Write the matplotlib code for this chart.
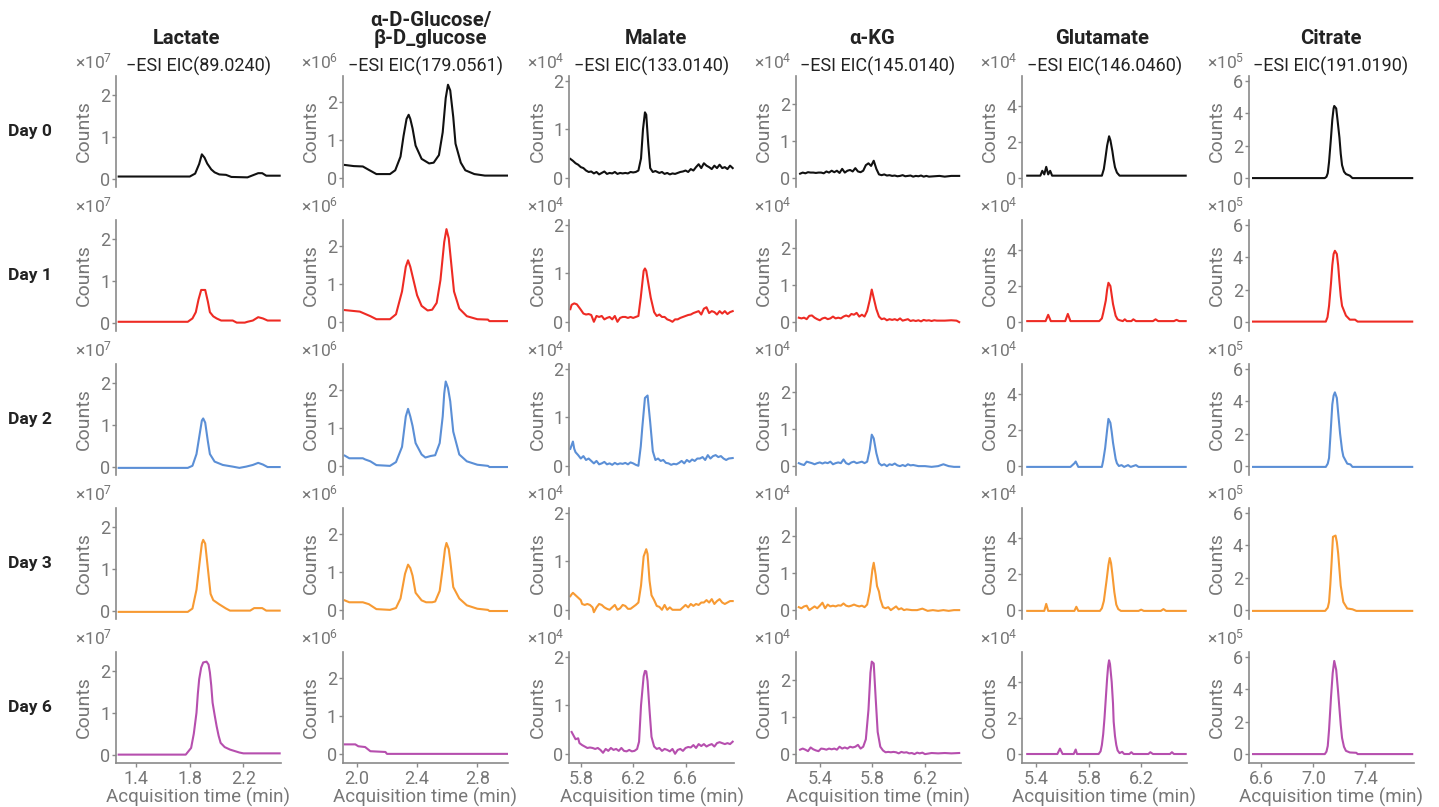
import matplotlib
matplotlib.use("Agg")
import matplotlib.pyplot as plt

plt.rcParams['font.family'] = ['Roboto', 'DejaVu Sans']
plt.rcParams['mathtext.fontset'] = 'custom'
plt.rcParams['mathtext.rm'] = 'Roboto'
plt.rcParams['mathtext.it'] = 'Roboto:italic'

compounds = ["Lactate", "α-D-Glucose/\nβ-D_glucose", "Malate", "α-KG", "Glutamate", "Citrate"]
eic_labels = ["−ESI EIC(89.0240)", "−ESI EIC(179.0561)", "−ESI EIC(133.0140)",
              "−ESI EIC(145.0140)", "−ESI EIC(146.0460)", "−ESI EIC(191.0190)"]
days = ["Day 0", "Day 1", "Day 2", "Day 3", "Day 6"]
exponents = [7, 6, 4, 4, 4, 5]
x_ranges = [(1.25, 2.48), (1.905, 3.0), (5.71, 6.97), (5.215, 6.47), (5.29, 6.55), (6.50, 7.77)]
y_ranges = [(-0.2, 2.45), (-0.24, 2.68), (-0.19, 2.1), (-0.24, 2.76), (-0.5, 5.67), (-0.55, 6.3)]
x_ticks = [[1.4, 1.8, 2.2], [2.0, 2.4, 2.8], [5.8, 6.2, 6.6], [5.4, 5.8, 6.2], [5.4, 5.8, 6.2], [6.6, 7.0, 7.4]]
y_ticks = [[0, 1, 2], [0, 1, 2], [0, 1, 2], [0, 1, 2], [0, 2, 4], [0, 2, 4, 6]]

# (time, counts / 10^exp)
lactate_d0 = [(1.27, 0.05), (1.80, 0.05), (1.84, 0.12), (1.87, 0.35), (1.89, 0.58), (1.91, 0.5), (1.93, 0.36),
              (1.96, 0.22), (1.985, 0.15), (2.02, 0.1), (2.07, 0.09), (2.11, 0.04), (2.23, 0.03), (2.27, 0.08),
              (2.31, 0.13), (2.34, 0.13), (2.37, 0.07), (2.47, 0.07)]
lactate_d1 = [(1.27, 0.02), (1.785, 0.02), (1.82, 0.1), (1.845, 0.25), (1.865, 0.55), (1.885, 0.78), (1.915, 0.78),
              (1.935, 0.5), (1.95, 0.25), (1.975, 0.15), (2.0, 0.1), (2.034, 0.05), (2.12, 0.05), (2.15, 0.0),
              (2.21, 0.0), (2.23, 0.02), (2.27, 0.05), (2.31, 0.13), (2.345, 0.1), (2.38, 0.05), (2.47, 0.05)]
lactate_d2 = [(1.27, -0.03), (1.785, -0.03), (1.82, 0.02), (1.85, 0.3), (1.875, 0.8), (1.89, 1.1), (1.9, 1.15),
              (1.915, 1.05), (1.935, 0.6), (1.95, 0.3), (1.985, 0.12), (2.046, 0.04), (2.12, 0.0), (2.17, -0.03),
              (2.22, 0.0), (2.27, 0.04), (2.31, 0.09), (2.345, 0.05), (2.38, -0.01), (2.47, -0.01)]
lactate_d3 = [(1.27, -0.03), (1.785, -0.03), (1.82, 0.05), (1.85, 0.5), (1.875, 1.2), (1.89, 1.6), (1.9, 1.69),
              (1.915, 1.6), (1.935, 1.0), (1.955, 0.4), (1.975, 0.25), (2.02, 0.15), (2.07, 0.05), (2.10, 0.0),
              (2.25, 0.0), (2.28, 0.06), (2.34, 0.06), (2.37, 0.0), (2.47, 0.0)]
lactate_d6 = [(1.27, 0.0), (1.77, 0.0), (1.81, 0.16), (1.83, 0.5), (1.85, 1.0), (1.86, 1.45), (1.87, 1.8),
              (1.885, 2.08), (1.90, 2.2), (1.925, 2.22), (1.94, 2.15), (1.95, 1.96), (1.96, 1.65), (1.97, 1.24),
              (1.985, 0.95), (2.0, 0.68), (2.015, 0.45), (2.03, 0.28), (2.06, 0.18), (2.10, 0.12), (2.17, 0.05),
              (2.20, 0.03), (2.47, 0.03)]

glucose_d0 = [(1.92, 0.34), (1.98, 0.31), (2.04, 0.3), (2.08, 0.21), (2.13, 0.1), (2.22, 0.1), (2.255, 0.2),
              (2.29, 0.56), (2.31, 1.1), (2.33, 1.55), (2.344, 1.66), (2.355, 1.55), (2.37, 1.3), (2.39, 0.85),
              (2.43, 0.5), (2.48, 0.38), (2.51, 0.4), (2.545, 0.6), (2.57, 1.2), (2.59, 2.1), (2.605, 2.45),
              (2.62, 2.3), (2.64, 1.6), (2.655, 0.9), (2.69, 0.4), (2.72, 0.2), (2.78, 0.1), (2.85, 0.06),
              (3.0, 0.06)]
glucose_d1 = [(1.92, 0.31), (2.02, 0.27), (2.09, 0.15), (2.13, 0.07), (2.22, 0.07), (2.26, 0.2), (2.30, 0.8),
              (2.325, 1.45), (2.34, 1.62), (2.355, 1.45), (2.37, 1.2), (2.40, 0.7), (2.43, 0.42), (2.47, 0.3),
              (2.50, 0.32), (2.53, 0.5), (2.555, 1.1), (2.58, 2.1), (2.595, 2.44), (2.61, 2.2), (2.62, 1.8),
              (2.645, 0.8), (2.68, 0.35), (2.73, 0.15), (2.80, 0.07), (2.87, 0.06), (2.88, 0.02), (3.0, 0.02)]
glucose_d2 = [(1.92, 0.27), (1.95, 0.2), (2.04, 0.2), (2.055, 0.17), (2.09, 0.12), (2.13, 0.02), (2.22, 0.0),
              (2.26, 0.1), (2.30, 0.5), (2.325, 1.3), (2.34, 1.5), (2.355, 1.3), (2.37, 1.05), (2.39, 0.6),
              (2.43, 0.3), (2.455, 0.22), (2.49, 0.26), (2.52, 0.28), (2.55, 0.6), (2.57, 1.3), (2.58, 1.9),
              (2.59, 2.22), (2.605, 2.05), (2.62, 1.7), (2.64, 0.9), (2.68, 0.3), (2.73, 0.12), (2.80, 0.03),
              (2.87, 0.0), (2.88, -0.03), (3.0, -0.03)]
glucose_d3 = [(1.92, 0.25), (1.95, 0.2), (2.04, 0.2), (2.08, 0.15), (2.13, 0.02), (2.22, 0.0), (2.26, 0.05),
              (2.29, 0.3), (2.32, 0.95), (2.34, 1.19), (2.355, 1.1), (2.37, 0.9), (2.39, 0.45), (2.43, 0.25),
              (2.46, 0.2), (2.50, 0.2), (2.52, 0.22), (2.55, 0.5), (2.57, 1.1), (2.585, 1.6), (2.595, 1.76),
              (2.61, 1.6), (2.62, 1.3), (2.64, 0.6), (2.68, 0.3), (2.73, 0.12), (2.80, 0.03), (2.87, 0.0),
              (2.88, -0.03), (3.0, -0.03)]
glucose_d6 = [(1.92, 0.25), (1.99, 0.25), (2.01, 0.2), (2.055, 0.18), (2.09, 0.07), (2.19, 0.05), (2.20, 0.0),
              (3.0, 0.0)]

malate_d0 = [(5.72, 0.39), (5.74, 0.35), (5.76, 0.3), (5.78, 0.27), (5.80, 0.22), (5.82, 0.2), (5.84, 0.15),
             (5.86, 0.12), (5.88, 0.13), (5.90, 0.09), (5.92, 0.12), (5.94, 0.07), (5.96, 0.1), (5.98, 0.13),
             (6.00, 0.08), (6.02, 0.1), (6.04, 0.09), (6.06, 0.12), (6.08, 0.08), (6.10, 0.1), (6.12, 0.09),
             (6.14, 0.1), (6.16, 0.09), (6.18, 0.12), (6.20, 0.11), (6.22, 0.12), (6.24, 0.15), (6.26, 0.4),
             (6.275, 1.0), (6.29, 1.35), (6.30, 1.3), (6.315, 0.7), (6.33, 0.2), (6.35, 0.12), (6.37, 0.14),
             (6.40, 0.1), (6.42, 0.12), (6.44, 0.08), (6.46, 0.1), (6.48, 0.07), (6.50, 0.09), (6.52, 0.08),
             (6.54, 0.1), (6.56, 0.12), (6.58, 0.13), (6.60, 0.15), (6.62, 0.12), (6.64, 0.18), (6.66, 0.15),
             (6.68, 0.22), (6.70, 0.28), (6.72, 0.2), (6.74, 0.3), (6.76, 0.25), (6.78, 0.22), (6.80, 0.18),
             (6.82, 0.25), (6.84, 0.2), (6.86, 0.27), (6.88, 0.2), (6.90, 0.22), (6.92, 0.18), (6.94, 0.25),
             (6.96, 0.2)]
malate_d1 = [(5.72, 0.26), (5.73, 0.35), (5.75, 0.38), (5.77, 0.36), (5.80, 0.25), (5.82, 0.17), (5.84, 0.15),
             (5.86, 0.16), (5.88, 0.14), (5.90, 0.0), (5.92, 0.12), (5.94, 0.1), (5.96, 0.12), (5.98, 0.05),
             (6.00, 0.08), (6.02, 0.1), (6.04, 0.05), (6.06, 0.12), (6.08, 0.0), (6.10, 0.08), (6.12, 0.1),
             (6.14, 0.1), (6.16, 0.08), (6.18, 0.1), (6.20, 0.08), (6.22, 0.1), (6.24, 0.12), (6.258, 0.5),
             (6.28, 1.05), (6.29, 1.1), (6.30, 1.05), (6.334, 0.5), (6.36, 0.2), (6.38, 0.12), (6.40, 0.15),
             (6.42, 0.1), (6.44, 0.1), (6.46, 0.05), (6.48, 0.03), (6.50, 0.0), (6.52, 0.05), (6.54, 0.05),
             (6.56, 0.08), (6.58, 0.1), (6.60, 0.12), (6.62, 0.14), (6.64, 0.15), (6.66, 0.18), (6.68, 0.2),
             (6.70, 0.22), (6.72, 0.15), (6.74, 0.27), (6.76, 0.3), (6.78, 0.18), (6.80, 0.22), (6.82, 0.2),
             (6.84, 0.15), (6.86, 0.22), (6.88, 0.17), (6.90, 0.22), (6.92, 0.16), (6.94, 0.2), (6.96, 0.22)]
malate_d2 = [(5.72, 0.35), (5.74, 0.5), (5.75, 0.35), (5.76, 0.28), (5.78, 0.22), (5.80, 0.15), (5.82, 0.2),
             (5.84, 0.12), (5.86, 0.15), (5.88, 0.1), (5.90, 0.05), (5.92, 0.1), (5.94, 0.03), (5.96, 0.05),
             (5.98, 0.08), (6.00, 0.03), (6.02, 0.05), (6.04, 0.02), (6.06, 0.06), (6.08, 0.03), (6.10, 0.05),
             (6.12, 0.04), (6.14, 0.06), (6.16, 0.03), (6.18, 0.07), (6.20, 0.05), (6.22, 0.02), (6.24, 0.0),
             (6.258, 0.4), (6.27, 0.8), (6.29, 1.4), (6.31, 1.45), (6.33, 0.9), (6.35, 0.3), (6.37, 0.12),
             (6.39, 0.15), (6.41, 0.1), (6.43, 0.12), (6.45, 0.06), (6.47, 0.05), (6.49, 0.02), (6.51, 0.04),
             (6.53, 0.03), (6.55, 0.06), (6.57, 0.1), (6.59, 0.05), (6.61, 0.12), (6.63, 0.08), (6.65, 0.13),
             (6.67, 0.1), (6.69, 0.15), (6.71, 0.15), (6.73, 0.18), (6.75, 0.12), (6.77, 0.22), (6.79, 0.15),
             (6.81, 0.2), (6.83, 0.22), (6.85, 0.18), (6.87, 0.2), (6.89, 0.15), (6.91, 0.12), (6.93, 0.15),
             (6.96, 0.16)]
malate_d3 = [(5.72, 0.28), (5.73, 0.32), (5.74, 0.35), (5.76, 0.3), (5.78, 0.25), (5.80, 0.2), (5.81, 0.12),
             (5.83, 0.1), (5.85, 0.12), (5.87, 0.1), (5.89, 0.05), (5.90, -0.05), (5.92, 0.05), (5.94, 0.12),
             (5.96, 0.1), (5.98, 0.05), (6.00, 0.02), (6.02, 0.0), (6.04, 0.05), (6.06, 0.1), (6.08, 0.0),
             (6.10, 0.03), (6.12, 0.1), (6.14, 0.08), (6.16, 0.02), (6.18, 0.02), (6.20, 0.06), (6.22, 0.1),
             (6.24, 0.15), (6.26, 0.5), (6.28, 1.1), (6.30, 1.25), (6.31, 1.15), (6.325, 0.6), (6.34, 0.3),
             (6.36, 0.2), (6.38, 0.08), (6.40, 0.06), (6.42, 0.0), (6.44, 0.1), (6.46, 0.0), (6.48, 0.05),
             (6.50, 0.0), (6.52, 0.0), (6.54, 0.0), (6.56, 0.0), (6.58, 0.05), (6.60, 0.1), (6.62, 0.05),
             (6.64, 0.12), (6.66, 0.08), (6.68, 0.12), (6.70, 0.1), (6.72, 0.15), (6.74, 0.15), (6.76, 0.2),
             (6.78, 0.15), (6.80, 0.22), (6.82, 0.12), (6.84, 0.18), (6.86, 0.22), (6.88, 0.15), (6.90, 0.12),
             (6.92, 0.15), (6.94, 0.18), (6.96, 0.18)]
malate_d6 = [(5.73, 0.45), (5.74, 0.4), (5.75, 0.35), (5.76, 0.3), (5.78, 0.32), (5.79, 0.22), (5.81, 0.18),
             (5.83, 0.15), (5.85, 0.12), (5.87, 0.13), (5.89, 0.12), (5.91, 0.1), (5.93, 0.12), (5.95, 0.08),
             (5.97, 0.02), (5.99, 0.1), (6.01, 0.06), (6.03, 0.12), (6.05, 0.08), (6.07, 0.1), (6.09, 0.06),
             (6.11, 0.12), (6.13, 0.06), (6.15, 0.05), (6.17, 0.08), (6.19, 0.05), (6.21, 0.06), (6.23, 0.1),
             (6.245, 0.25), (6.26, 1.0), (6.28, 1.6), (6.29, 1.71), (6.30, 1.7), (6.31, 1.5), (6.325, 0.9),
             (6.34, 0.35), (6.36, 0.15), (6.38, 0.1), (6.40, 0.12), (6.42, 0.06), (6.44, 0.1), (6.46, 0.08),
             (6.48, 0.05), (6.50, 0.1), (6.52, 0.0), (6.54, 0.08), (6.56, 0.1), (6.58, 0.06), (6.60, 0.12),
             (6.62, 0.14), (6.64, 0.13), (6.66, 0.18), (6.68, 0.12), (6.70, 0.2), (6.72, 0.16), (6.74, 0.2),
             (6.76, 0.15), (6.78, 0.18), (6.80, 0.2), (6.82, 0.15), (6.84, 0.22), (6.86, 0.24), (6.88, 0.22),
             (6.90, 0.2), (6.92, 0.22), (6.94, 0.2), (6.96, 0.25)]

akg_d0 = [(5.25, 0.12), (5.27, 0.15), (5.29, 0.13), (5.31, 0.16), (5.33, 0.15), (5.35, 0.15), (5.37, 0.14),
          (5.39, 0.15), (5.41, 0.15), (5.43, 0.13), (5.45, 0.18), (5.47, 0.15), (5.49, 0.2), (5.51, 0.16),
          (5.53, 0.2), (5.55, 0.14), (5.57, 0.25), (5.59, 0.15), (5.61, 0.2), (5.63, 0.22), (5.65, 0.18),
          (5.67, 0.27), (5.69, 0.18), (5.71, 0.16), (5.73, 0.2), (5.75, 0.35), (5.77, 0.4), (5.79, 0.33),
          (5.81, 0.47), (5.83, 0.25), (5.85, 0.1), (5.87, 0.08), (5.89, 0.1), (5.91, 0.07), (5.93, 0.08),
          (5.95, 0.06), (5.97, 0.07), (5.99, 0.05), (6.01, 0.06), (6.03, 0.08), (6.05, 0.05), (6.07, 0.06),
          (6.09, 0.07), (6.11, 0.04), (6.13, 0.06), (6.15, 0.05), (6.17, 0.07), (6.19, 0.04), (6.21, 0.06),
          (6.23, 0.04), (6.27, 0.05), (6.31, 0.06), (6.35, 0.04), (6.40, 0.06), (6.46, 0.06)]
akg_d1 = [(5.24, 0.12), (5.26, 0.1), (5.28, 0.12), (5.30, 0.08), (5.32, 0.17), (5.34, 0.18), (5.36, 0.12),
          (5.38, 0.08), (5.40, 0.05), (5.42, 0.1), (5.44, 0.12), (5.46, 0.08), (5.48, 0.1), (5.50, 0.15),
          (5.52, 0.1), (5.54, 0.12), (5.56, 0.1), (5.58, 0.15), (5.60, 0.18), (5.62, 0.15), (5.64, 0.22),
          (5.66, 0.2), (5.68, 0.25), (5.70, 0.15), (5.72, 0.2), (5.74, 0.15), (5.76, 0.3), (5.78, 0.6),
          (5.795, 0.88), (5.81, 0.65), (5.83, 0.35), (5.85, 0.15), (5.87, 0.08), (5.89, 0.1), (5.91, 0.05),
          (5.93, 0.08), (5.95, 0.06), (5.97, 0.08), (5.99, 0.05), (6.01, 0.1), (6.03, 0.04), (6.05, 0.06),
          (6.07, 0.08), (6.09, 0.03), (6.11, 0.05), (6.13, 0.03), (6.15, 0.05), (6.17, 0.02), (6.19, 0.06),
          (6.21, 0.04), (6.23, 0.05), (6.25, 0.03), (6.27, 0.05), (6.29, 0.04), (6.35, 0.04), (6.40, 0.05),
          (6.44, 0.04), (6.46, 0.0)]
akg_d2 = [(5.24, 0.08), (5.26, 0.05), (5.28, 0.03), (5.30, 0.12), (5.32, 0.1), (5.34, 0.08), (5.36, 0.05),
          (5.38, 0.08), (5.40, 0.1), (5.42, 0.07), (5.44, 0.1), (5.46, 0.08), (5.48, 0.12), (5.50, 0.05),
          (5.52, 0.08), (5.54, 0.1), (5.56, 0.08), (5.58, 0.18), (5.60, 0.08), (5.62, 0.05), (5.64, 0.1),
          (5.66, 0.12), (5.68, 0.08), (5.70, 0.1), (5.72, 0.12), (5.74, 0.08), (5.76, 0.12), (5.78, 0.45),
          (5.795, 0.85), (5.81, 0.75), (5.83, 0.35), (5.85, 0.08), (5.87, 0.02), (5.89, 0.05), (5.91, 0.0),
          (5.93, 0.05), (5.95, 0.03), (5.97, 0.07), (5.99, 0.02), (6.01, 0.0), (6.03, 0.03), (6.05, 0.0),
          (6.07, 0.05), (6.09, 0.02), (6.11, 0.03), (6.15, 0.0), (6.20, 0.0), (6.25, -0.02), (6.30, 0.0),
          (6.34, 0.05), (6.38, 0.0), (6.42, -0.02), (6.46, -0.02)]
akg_d3 = [(5.24, 0.08), (5.26, 0.05), (5.28, 0.1), (5.30, 0.12), (5.32, 0.0), (5.34, 0.05), (5.36, 0.1),
          (5.38, 0.05), (5.40, 0.12), (5.42, 0.2), (5.44, 0.05), (5.46, 0.15), (5.48, 0.1), (5.50, 0.12),
          (5.52, 0.1), (5.54, 0.13), (5.56, 0.12), (5.58, 0.18), (5.60, 0.12), (5.62, 0.1), (5.64, 0.12),
          (5.66, 0.15), (5.68, 0.12), (5.70, 0.1), (5.72, 0.12), (5.74, 0.08), (5.76, 0.15), (5.78, 0.5),
          (5.80, 1.1), (5.81, 1.28), (5.825, 0.95), (5.835, 0.65), (5.85, 0.5), (5.86, 0.3), (5.88, 0.08),
          (5.90, 0.05), (5.92, 0.08), (5.94, 0.0), (5.96, 0.05), (5.98, 0.1), (6.00, 0.02), (6.02, 0.05),
          (6.04, 0.0), (6.06, 0.02), (6.10, 0.0), (6.14, 0.0), (6.18, 0.04), (6.22, -0.02), (6.26, 0.0),
          (6.30, -0.02), (6.34, 0.0), (6.38, -0.02), (6.42, 0.0), (6.46, 0.0)]
akg_d6 = [(5.25, 0.12), (5.27, 0.15), (5.29, 0.12), (5.31, 0.08), (5.33, 0.18), (5.35, 0.13), (5.37, 0.1),
          (5.39, 0.08), (5.41, 0.15), (5.43, 0.14), (5.45, 0.12), (5.47, 0.15), (5.49, 0.13), (5.51, 0.15),
          (5.53, 0.12), (5.55, 0.2), (5.57, 0.15), (5.59, 0.18), (5.61, 0.15), (5.63, 0.2), (5.65, 0.18),
          (5.67, 0.2), (5.69, 0.25), (5.71, 0.15), (5.73, 0.2), (5.75, 0.4), (5.77, 1.2), (5.785, 2.2),
          (5.795, 2.5), (5.81, 2.45), (5.825, 1.5), (5.84, 0.6), (5.86, 0.2), (5.88, 0.1), (5.90, 0.05),
          (5.92, 0.06), (5.94, 0.05), (5.96, 0.06), (5.98, 0.05), (6.00, 0.02), (6.02, 0.06), (6.04, 0.04),
          (6.06, 0.05), (6.08, 0.02), (6.10, 0.03), (6.12, 0.0), (6.14, 0.04), (6.16, 0.02), (6.18, 0.04),
          (6.20, 0.0), (6.25, 0.03), (6.30, 0.02), (6.35, 0.03), (6.40, 0.02), (6.46, 0.03)]

glutamate_d0 = [(5.33, 0.13), (5.43, 0.13), (5.445, 0.4), (5.46, 0.2), (5.475, 0.62), (5.49, 0.2), (5.505, 0.4),
                (5.52, 0.13), (5.90, 0.13), (5.915, 0.5), (5.925, 1.0), (5.94, 1.8), (5.955, 2.32), (5.965, 2.1),
                (5.98, 1.5), (5.99, 1.0), (6.00, 0.6), (6.015, 0.3), (6.035, 0.13), (6.54, 0.13)]
glutamate_d1 = [(5.33, 0.05), (5.47, 0.05), (5.49, 0.4), (5.51, 0.05), (5.62, 0.05), (5.64, 0.45), (5.66, 0.05),
                (5.88, 0.05), (5.90, 0.2), (5.91, 0.5), (5.93, 1.2), (5.94, 1.8), (5.95, 2.18), (5.965, 2.0),
                (5.975, 1.5), (5.985, 1.0), (6.005, 0.35), (6.02, 0.15), (6.035, 0.1), (6.06, 0.05),
                (6.075, 0.15), (6.09, 0.05), (6.125, 0.05), (6.14, 0.15), (6.16, 0.05), (6.29, 0.05),
                (6.31, 0.15), (6.33, 0.05), (6.45, 0.05), (6.47, 0.12), (6.49, 0.05), (6.54, 0.05)]
glutamate_d2 = [(5.33, -0.05), (5.66, -0.05), (5.69, 0.15), (5.70, 0.25), (5.72, -0.05), (5.90, -0.05),
                (5.91, 0.3), (5.925, 1.0), (5.94, 2.0), (5.95, 2.62), (5.965, 2.4), (5.975, 1.9), (5.985, 1.3),
                (6.005, 0.4), (6.015, 0.15), (6.03, 0.0), (6.05, 0.05), (6.07, -0.05), (6.10, 0.05),
                (6.12, -0.05), (6.16, 0.05), (6.18, -0.05), (6.54, -0.05)]
glutamate_d3 = [(5.33, -0.05), (5.46, -0.05), (5.475, 0.34), (5.49, -0.05), (5.69, -0.05), (5.705, 0.18),
                (5.72, -0.05), (5.885, -0.05), (5.90, 0.1), (5.915, 0.5), (5.935, 1.6), (5.95, 2.5),
                (5.96, 2.89), (5.97, 2.6), (5.98, 2.0), (5.995, 1.0), (6.01, 0.3), (6.025, 0.05),
                (6.045, -0.05), (6.18, -0.05), (6.20, 0.02), (6.22, -0.05), (6.35, -0.05), (6.37, 0.05),
                (6.39, -0.05), (6.54, -0.05)]
glutamate_d6 = [(5.33, 0.0), (5.56, 0.0), (5.58, 0.3), (5.60, 0.0), (5.685, 0.0), (5.70, 0.25), (5.71, 0.0),
                (5.875, 0.0), (5.89, 0.15), (5.90, 0.5), (5.91, 1.1), (5.92, 2.0), (5.93, 3.1), (5.94, 4.2),
                (5.948, 4.9), (5.955, 5.21), (5.962, 5.0), (5.975, 4.0), (5.985, 2.8), (5.99, 1.8), (6.0, 1.0),
                (6.01, 0.5), (6.02, 0.2), (6.035, 0.05), (6.055, 0.12), (6.07, 0.0), (6.11, 0.0), (6.125, 0.1),
                (6.14, 0.0), (6.255, 0.0), (6.27, 0.1), (6.29, 0.0), (6.42, 0.0), (6.435, 0.1), (6.45, 0.0),
                (6.54, 0.0)]

citrate_d0 = [(6.535, 0.0), (7.087, 0.0), (7.10, 0.08), (7.11, 0.3), (7.12, 1.0), (7.135, 2.5), (7.145, 3.6),
              (7.155, 4.3), (7.16, 4.45), (7.175, 4.3), (7.185, 3.6), (7.20, 2.5), (7.21, 1.5), (7.22, 0.8),
              (7.235, 0.4), (7.25, 0.25), (7.28, 0.15), (7.30, 0.0), (7.76, 0.0)]
citrate_d1 = [(6.535, 0.03), (7.095, 0.03), (7.108, 0.3), (7.12, 1.0), (7.135, 2.4), (7.145, 3.5), (7.155, 4.2),
              (7.165, 4.4), (7.18, 4.2), (7.19, 3.5), (7.20, 2.5), (7.21, 1.6), (7.22, 1.0), (7.25, 0.4),
              (7.28, 0.15), (7.32, 0.15), (7.34, 0.03), (7.76, 0.03)]
citrate_d2 = [(6.535, -0.05), (7.095, -0.05), (7.11, 0.15), (7.12, 0.5), (7.13, 1.8), (7.145, 3.8),
              (7.155, 4.35), (7.165, 4.55), (7.18, 4.2), (7.19, 3.3), (7.205, 2.0), (7.22, 1.0), (7.23, 0.6),
              (7.26, 0.15), (7.285, 0.1), (7.30, -0.05), (7.76, -0.05)]
citrate_d3 = [(6.535, -0.05), (7.09, -0.05), (7.11, 0.15), (7.12, 0.5), (7.13, 1.6), (7.14, 3.0), (7.15, 4.52),
              (7.17, 4.6), (7.18, 4.2), (7.19, 3.5), (7.20, 2.5), (7.21, 1.5), (7.23, 0.5), (7.26, 0.1),
              (7.30, 0.05), (7.33, -0.05), (7.76, -0.05)]
citrate_d6 = [(6.535, 0.0), (7.087, 0.0), (7.10, 0.15), (7.11, 0.5), (7.12, 1.5), (7.135, 3.5), (7.148, 5.0),
              (7.16, 5.75), (7.175, 5.2), (7.188, 4.0), (7.20, 2.8), (7.21, 1.8), (7.22, 1.0), (7.235, 0.45),
              (7.25, 0.2), (7.28, 0.1), (7.33, 0.08), (7.34, 0.0), (7.76, 0.0)]

traces = [
    [lactate_d0, lactate_d1, lactate_d2, lactate_d3, lactate_d6],
    [glucose_d0, glucose_d1, glucose_d2, glucose_d3, glucose_d6],
    [malate_d0, malate_d1, malate_d2, malate_d3, malate_d6],
    [akg_d0, akg_d1, akg_d2, akg_d3, akg_d6],
    [glutamate_d0, glutamate_d1, glutamate_d2, glutamate_d3, glutamate_d6],
    [citrate_d0, citrate_d1, citrate_d2, citrate_d3, citrate_d6],
]

day_colors = ['#111111', '#ee2b24', '#5b8fd6', '#f79a33', '#b64fae']
gray = '#777777'
spine_gray = '#8a8a8a'
dark = '#222222'
# compound headers are not all centred on their panel
title_shift = [-9, 4, 3, -4, -2, 0]

W, H = 1439, 807
fig = plt.figure(figsize=(W / 100, H / 100), dpi=100)

for c in range(6):
    for r in range(5):
        left = 116 + 226.5 * c
        top = 76 + 144 * r
        ax = fig.add_axes([left / W, 1 - (top + 111) / H, 165 / W, 111 / H])
        t, y = zip(*traces[c][r])
        ax.plot(t, y, color=day_colors[r], lw=1.5, solid_joinstyle='round')
        ax.set_xlim(x_ranges[c])
        ax.set_ylim(y_ranges[c])
        ax.set_yticks(y_ticks[c])
        ax.set_yticklabels([str(v) for v in y_ticks[c]])
        ax.spines['top'].set_visible(False)
        ax.spines['right'].set_visible(False)
        ax.spines['left'].set_color(spine_gray)
        ax.spines['left'].set_linewidth(1.2)
        ax.tick_params(axis='y', colors=spine_gray, labelcolor=gray, length=3, width=1,
                       labelsize=13, pad=1)
        ax.set_ylabel('Counts', color=gray, fontsize=14, labelpad=5)
        ax.annotate('×10$^{%d}$' % exponents[c], xy=(0, 1), xycoords='axes fraction',
                    xytext=(-3, 3), textcoords='offset points', ha='right', va='bottom',
                    fontsize=12.5, color=gray)
        if r == 4:
            ax.spines['bottom'].set_color(spine_gray)
            ax.spines['bottom'].set_linewidth(1.2)
            ax.set_xticks(x_ticks[c])
            ax.set_xticklabels(['%.1f' % v for v in x_ticks[c]])
            ax.tick_params(axis='x', colors=spine_gray, labelcolor=gray, length=3, width=1,
                           labelsize=13, pad=2)
            ax.set_xlabel('Acquisition time (min)', color=gray, fontsize=13.5, labelpad=0)
        else:
            ax.spines['bottom'].set_visible(False)
            ax.set_xticks([])
        if r == 0:
            ax.set_title(eic_labels[c], fontsize=13, color=dark, pad=1)
            ax.annotate(compounds[c], xy=(0.5, 1), xycoords='axes fraction',
                        xytext=(title_shift[c], 20.5), textcoords='offset points',
                        ha='center', va='bottom', fontsize=14.5, fontweight='bold',
                        color=dark, linespacing=0.9)
        if c == 0:
            fig.text(30 / W, 1 - (top + 55.5) / H, days[r], ha='center', va='center',
                     fontsize=12.5, fontweight='bold', color=dark)

fig.savefig('out.png', dpi=100)
